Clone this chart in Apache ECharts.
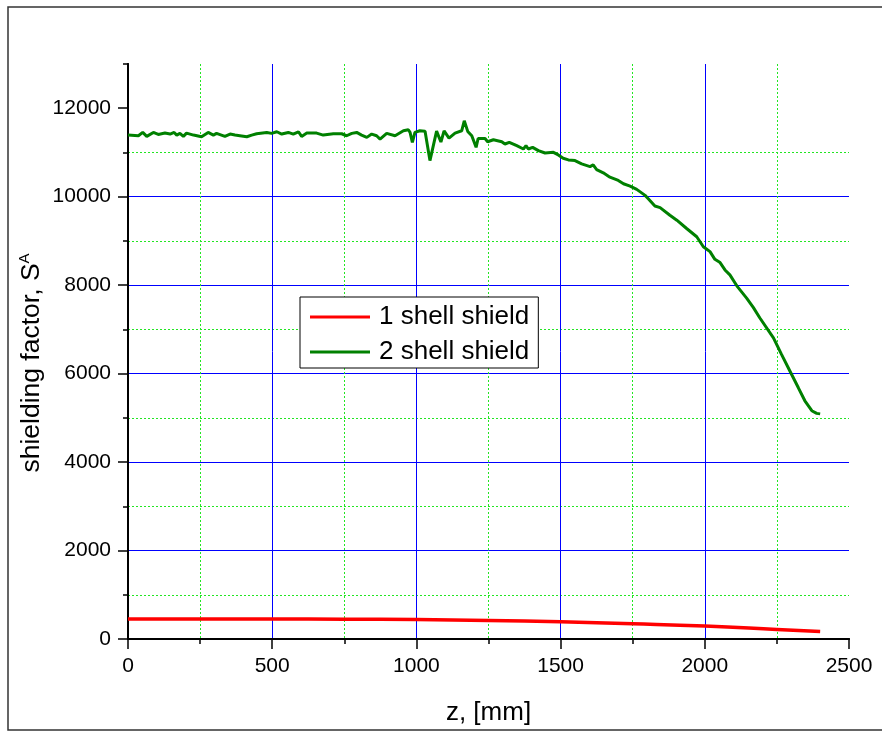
<!DOCTYPE html>
<html>
<head>
<meta charset="utf-8">
<script src="https://cdn.jsdelivr.net/npm/echarts@6/dist/echarts.min.js"></script>
<style>html,body{margin:0;padding:0;background:#fff}#c{width:882px;height:731px}</style>
</head>
<body>
<div id="c"></div>
<script>
// ---- data ----
const seriesNames = ['1 shell shield', '2 shell shield'];
const xTicks = [0, 500, 1000, 1500, 2000, 2500];
const yTicks = [0, 2000, 4000, 6000, 8000, 10000, 12000];
const xTitle = 'z, [mm]';
const yTitleMain = 'shielding factor, S';
const yTitleSup = 'A';

const z1 = [0, 250, 500, 750, 1000, 1250, 1500, 1750, 2000, 2250, 2400];
const s1 = [455, 455, 452, 448, 440, 420, 390, 345, 292, 217, 170];

const z2 = [0, 36, 51, 65, 88, 105, 128, 146, 160, 169, 180, 192, 203, 227, 255, 278, 296, 307, 336, 354,
  371, 388, 412, 429, 446, 481, 498, 516, 533, 556, 573, 591, 602, 620, 654, 677, 712, 741, 758, 776,
  793, 810, 828, 845, 862, 874, 897, 926, 955, 972, 978, 986, 995, 1012, 1030, 1047, 1070, 1085, 1096, 1113,
  1134, 1157, 1166, 1178, 1192, 1207, 1214, 1238, 1247, 1267, 1296, 1307, 1322, 1348, 1371, 1380, 1388, 1403, 1423, 1446,
  1475, 1492, 1509, 1527, 1550, 1573, 1602, 1613, 1625, 1648, 1671, 1700, 1718, 1741, 1764, 1793, 1804, 1827, 1845, 1879,
  1903, 1937, 1972, 1995, 2018, 2035, 2053, 2070, 2087, 2111, 2145, 2168, 2191, 2238, 2266, 2295, 2324, 2347, 2371, 2388, 2400];
const s2 = [11393, 11378, 11453, 11363, 11453, 11408, 11438, 11416, 11453, 11393, 11431, 11363, 11438, 11393, 11356, 11453, 11393, 11431, 11363, 11416,
  11393, 11378, 11356, 11393, 11423, 11453, 11431, 11468, 11416, 11453, 11416, 11468, 11363, 11438, 11438, 11393, 11423, 11423, 11378, 11431,
  11453, 11393, 11341, 11416, 11378, 11303, 11431, 11378, 11490, 11513, 11453, 11229, 11453, 11490, 11480, 10816, 11483, 11236, 11490, 11326,
  11438, 11490, 11715, 11476, 11378, 11116, 11315, 11315, 11243, 11288, 11243, 11191, 11229, 11153, 11078, 11153, 11078, 11116, 11041, 10988,
  11003, 10944, 10868, 10831, 10816, 10741, 10681, 10719, 10614, 10539, 10442, 10367, 10292, 10240, 10165, 10030, 9955, 9790, 9753, 9580,
  9468, 9281, 9094, 8869, 8757, 8584, 8510, 8344, 8232, 7985, 7708, 7498, 7258, 6809, 6434, 6060, 5685, 5386, 5161, 5101, 5090];

const FONT = 'Arial, "Liberation Sans", sans-serif';
const pair = (xs, ys) => xs.map((x, i) => [x, ys[i]]);
const plain = v => String(v);

const chart = echarts.init(document.getElementById('c'), null, {renderer: 'canvas'});
chart.setOption({
  animation: false,
  backgroundColor: '#fff',
  textStyle: {fontFamily: FONT},
  grid: {left: 128, right: 33, top: 64, bottom: 88, containLabel: false},
  graphic: [{
    type: 'rect', silent: true, z: -1,
    shape: {x: 8, y: 7, width: 890, height: 723},
    style: {fill: 'none', stroke: '#333', lineWidth: 1.5}
  }, {
    type: 'text', silent: true, z: 10,
    x: 32, y: 363, rotation: Math.PI / 2,
    style: {
      text: '{t|' + yTitleMain + '}{s|' + yTitleSup + '}',
      align: 'center', verticalAlign: 'middle',
      fill: '#000', fontFamily: FONT, fontSize: 26,
      rich: {
        t: {fontSize: 26.5, lineHeight: 30, fontFamily: FONT, fill: '#000', color: '#000'},
        s: {fontSize: 15, lineHeight: 30, verticalAlign: 'top', fontFamily: FONT, fill: '#000', color: '#000'}
      }
    }
  }],
  xAxis: [{
    type: 'value', min: 0, max: 2500, interval: 250, position: 'bottom',
    axisLine: {show: true, onZero: false, lineStyle: {color: '#000', width: 2}},
    axisTick: {show: true, length: 5, lineStyle: {color: '#000', width: 1.5}},
    axisLabel: {show: false},
    splitLine: {show: true, showMaxLine: false, lineStyle: {color: ['transparent', '#22e622'], type: [2, 2], width: 1}}
  }, {
    type: 'value', min: 0, max: 2500, interval: 500, position: 'bottom',
    axisLine: {show: true, onZero: false, lineStyle: {color: '#000', width: 2}},
    axisTick: {show: true, length: 10, lineStyle: {color: '#000', width: 1.5}},
    axisLabel: {show: true, formatter: plain, fontSize: 21, color: '#000', margin: 17, fontFamily: FONT},
    splitLine: {show: true, showMaxLine: false, lineStyle: {color: '#0000ff', width: 1}},
    name: xTitle, nameLocation: 'middle', nameGap: 61,
    nameTextStyle: {fontSize: 26, color: '#000', fontFamily: FONT}
  }],
  yAxis: [{
    type: 'value', min: 0, max: 13000, interval: 1000, position: 'left',
    axisLine: {show: true, onZero: false, lineStyle: {color: '#000', width: 2}},
    axisTick: {show: true, length: 5, lineStyle: {color: '#000', width: 1.5}},
    axisLabel: {show: false},
    splitLine: {show: true, showMaxLine: false, lineStyle: {color: ['transparent', '#22e622'], type: [2, 2], width: 1}}
  }, {
    type: 'value', min: 0, max: 13000, interval: 2000, position: 'left',
    axisLine: {show: true, onZero: false, lineStyle: {color: '#000', width: 2}},
    axisTick: {show: true, length: 10, customValues: yTicks, lineStyle: {color: '#000', width: 1.5}},
    axisLabel: {show: true, customValues: yTicks, formatter: plain, fontSize: 21, color: '#000', margin: 17, fontFamily: FONT},
    splitLine: {show: true, showMaxLine: false, lineStyle: {color: '#0000ff', width: 1}}
  }],
  legend: {
    show: true, orient: 'vertical', left: 300, top: 297,
    data: seriesNames, icon: 'rect',
    itemWidth: 60, itemHeight: 3, itemGap: 7,
    padding: [6, 9, 2, 10],
    borderColor: '#000', borderWidth: 1, backgroundColor: '#fff',
    textStyle: {fontSize: 26, color: '#000', fontFamily: FONT, lineHeight: 28, padding: [0, 0, 0, 4]}
  },
  series: [{
    name: seriesNames[0], type: 'line', xAxisIndex: 0, yAxisIndex: 0,
    data: pair(z1, s1), smooth: true, symbol: 'none', showSymbol: false,
    lineStyle: {color: '#ff0000', width: 3.5}, itemStyle: {color: '#ff0000'}, z: 5
  }, {
    name: seriesNames[1], type: 'line', xAxisIndex: 0, yAxisIndex: 0,
    data: pair(z2, s2), symbol: 'none', showSymbol: false,
    lineStyle: {color: '#008000', width: 3}, itemStyle: {color: '#008000'}, z: 5
  }]
});
</script>
</body>
</html>
